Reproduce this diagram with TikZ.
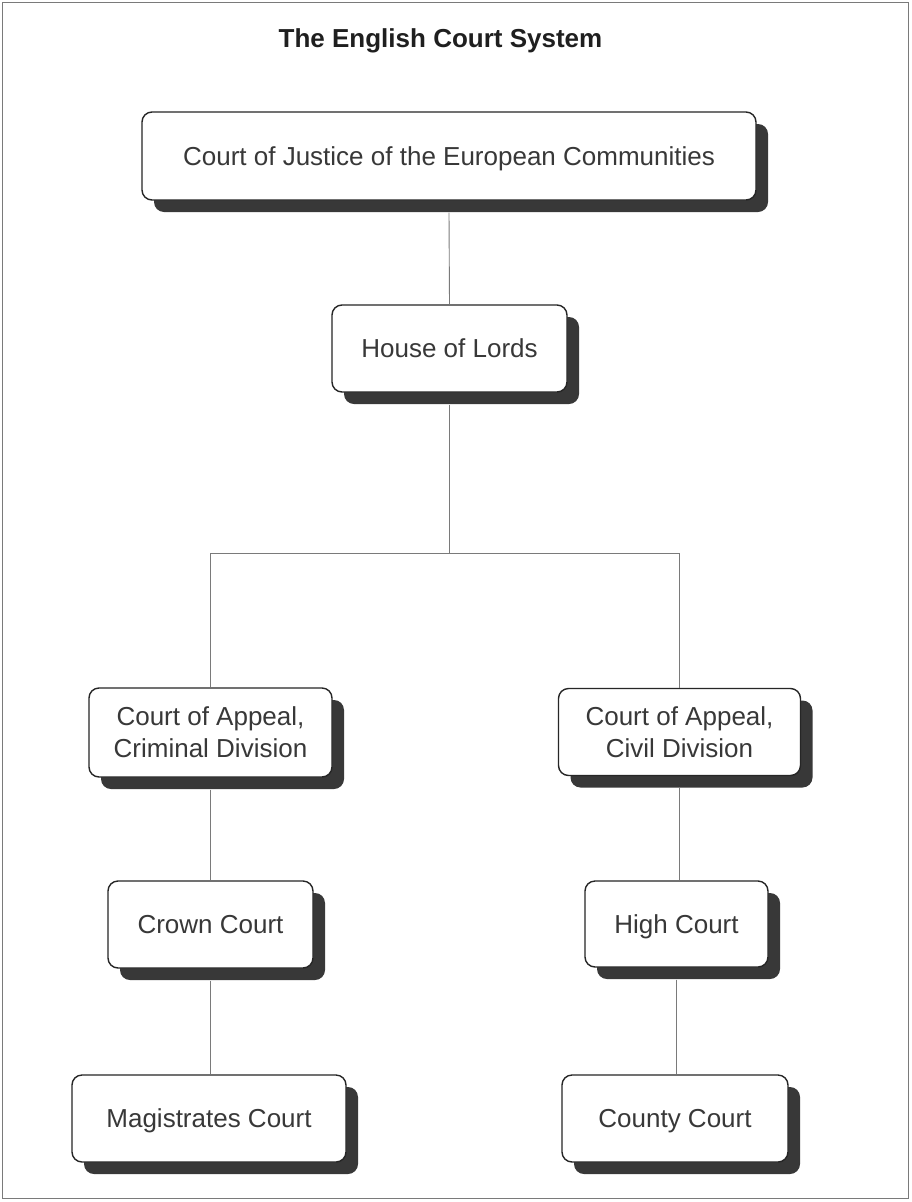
\documentclass[tikz,border=0pt]{standalone}
\usepackage{fontspec}
\setmainfont{Liberation Sans}
\usetikzlibrary{shadows}
\definecolor{shade}{HTML}{383838}
\definecolor{txt}{HTML}{383838}
\definecolor{lin}{HTML}{7A7A7A}
\tikzset{
 court/.style={draw=black!85, line width=1.4pt, rounded corners=10pt, fill=white,
   text=txt, font=\fontsize{26}{32}\selectfont, align=center, inner sep=0pt,
   text height=18.6pt, text depth=0pt,
   general shadow={fill=shade, shadow xshift=12pt, shadow yshift=-12pt}},
 twoline/.style={text height=50.6pt, text depth=0pt},
 link/.style={draw=lin, line width=0.9pt},
}
\begin{document}
\begin{tikzpicture}[x=1pt,y=-1pt]
\fill[white] (0,0) rectangle (911,1202);
\useasboundingbox (0,0) rectangle (911,1202);
\draw[lin, line width=0.8pt] (2,2) rectangle (908,1198);
\node[font=\bfseries\fontsize{26}{31}\selectfont, text=black!88, anchor=base, inner sep=0pt] (title) at (440.5,47) {The English Court System};

\node[court, minimum width=614pt, minimum height=88pt] (cj) at (449,156) {Court of Justice of the European Communities};
\node[court, minimum width=235pt, minimum height=87pt] (hl) at (449.5,348.5) {House of Lords};
\node[court, twoline, minimum width=243pt, minimum height=89pt] (cac) at (210.5,732.5) {Court of Appeal,\\Criminal Division};
\node[court, twoline, minimum width=242pt, minimum height=87pt] (cav) at (679.5,732) {Court of Appeal,\\Civil Division};
\node[court, minimum width=205pt, minimum height=87pt] (cc) at (210.5,924.5) {Crown Court};
\node[court, minimum width=183pt, minimum height=86pt] (hc) at (676.5,924) {High Court};
\node[court, minimum width=274pt, minimum height=87pt] (mc) at (209,1118.5) {Magistrates Court};
\node[court, minimum width=226pt, minimum height=87pt] (co) at (675,1118.5) {County Court};

\coordinate (j) at (449.5,553);
\draw[link] ([yshift=-12pt]cj.south) -- (hl.north);
\draw[link] ([yshift=-12pt]hl.south) -- (j);
\draw[link] (cac.north) |- (j);
\draw[link] (cav.north) |- (j);
\draw[link] ([yshift=-12pt]cac.south) -- (cc.north);
\draw[link] ([yshift=-12pt]cc.south) -- (mc.north -| cc.south);
\draw[link] ([yshift=-12pt]cav.south) -- (hc.north -| cav.south);
\draw[link] ([yshift=-12pt]hc.south) -- (co.north -| hc.south);
\end{tikzpicture}
\end{document}
